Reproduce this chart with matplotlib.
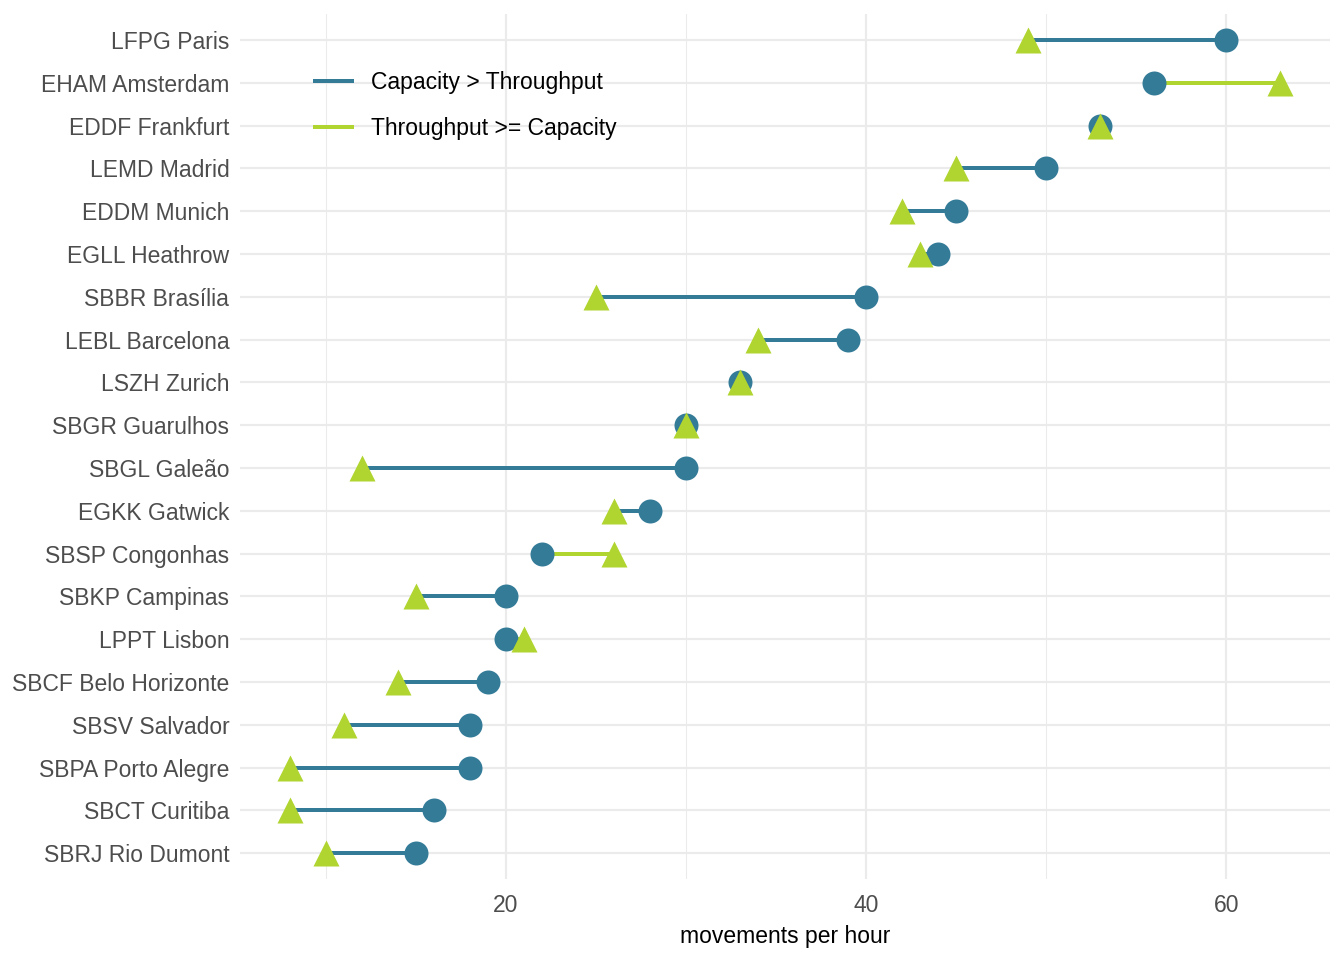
import matplotlib
matplotlib.use("Agg")
import matplotlib.pyplot as plt
from matplotlib.lines import Line2D
from matplotlib.ticker import MultipleLocator

airports = ['LFPG Paris', 'EHAM Amsterdam', 'EDDF Frankfurt', 'LEMD Madrid',
            'EDDM Munich', 'EGLL Heathrow', 'SBBR Brasília', 'LEBL Barcelona',
            'LSZH Zurich', 'SBGR Guarulhos', 'SBGL Galeão', 'EGKK Gatwick',
            'SBSP Congonhas', 'SBKP Campinas', 'LPPT Lisbon', 'SBCF Belo Horizonte',
            'SBSV Salvador', 'SBPA Porto Alegre', 'SBCT Curitiba', 'SBRJ Rio Dumont']
capacity = [60, 56, 53, 50, 45, 44, 40, 39, 33, 30, 30, 28, 22, 20, 20, 19, 18, 18, 16, 15]
throughput = [49, 63, 53, 45, 42, 43, 25, 34, 33, 30, 12, 26, 26, 15, 21, 14, 11, 8, 8, 10]

blue = '#347b98'
green = '#b0d530'
fs = 17.2

plt.rcParams['font.family'] = ['Liberation Sans', 'DejaVu Sans']

fig = plt.figure(figsize=(14, 10), dpi=96)
ax = fig.add_axes([0.1786, 0.0844, 0.8110, 0.9006])

n = len(airports)
ypos = list(range(n - 1, -1, -1))

for y, c, t in zip(ypos, capacity, throughput):
    col = blue if c > t else green
    ax.plot([c, t], [y, y], color=col, lw=3.0, solid_capstyle='butt', zorder=3)

ax.scatter(capacity, ypos, s=18 ** 2, color=blue, marker='o', lw=0, zorder=4)
ax.scatter(throughput, ypos, s=19.5 ** 2, color=green, marker='^', lw=0, zorder=5)

lo = min(min(capacity), min(throughput))
hi = max(max(capacity), max(throughput))
pad = (hi - lo) * 0.05
ax.set_xlim(lo - pad, hi + pad)
ax.set_ylim(-0.6, n - 1 + 0.6)

ax.set_yticks(ypos)
ax.set_yticklabels(airports)
ax.xaxis.set_major_locator(MultipleLocator(20))
ax.xaxis.set_minor_locator(MultipleLocator(10))

ax.grid(True, which='major', color='#ebebeb', lw=1.6, zorder=0)
ax.grid(True, which='minor', axis='x', color='#ebebeb', lw=0.8, zorder=0)
ax.set_axisbelow(True)
for s in ax.spines.values():
    s.set_visible(False)
ax.tick_params(which='both', length=0, labelsize=fs, labelcolor='#4d4d4d')
ax.tick_params(axis='y', pad=8)
ax.tick_params(axis='x', pad=11)
ax.set_xlabel('movements per hour', fontsize=fs, color='black', labelpad=6)

handles = [Line2D([], [], color=blue, lw=3.0),
           Line2D([], [], color=green, lw=3.0)]
ax.legend(handles, ['Capacity > Throughput', 'Throughput >= Capacity'],
          loc='upper left', bbox_to_anchor=(0.05, 0.958), frameon=False,
          fontsize=fs, handlelength=1.6, handletextpad=0.85, labelspacing=1.0)

fig.savefig('out.png', dpi=96, facecolor='white')
